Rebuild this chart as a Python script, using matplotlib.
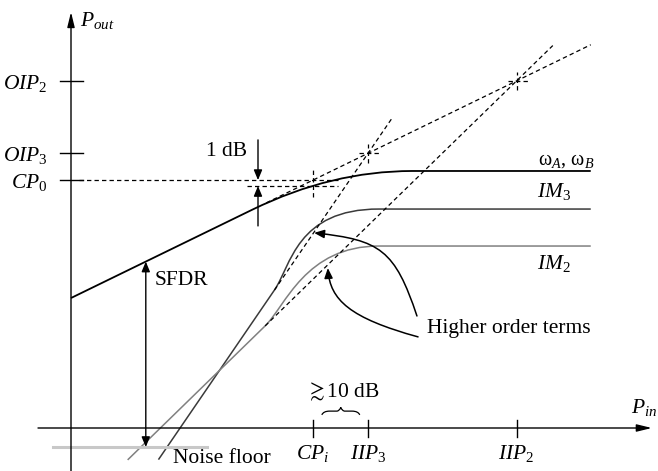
import matplotlib.pyplot as plt
from matplotlib.path import Path
from matplotlib.patches import PathPatch, FancyArrowPatch

plt.rcParams['font.family'] = ['Liberation Serif', 'DejaVu Serif']
plt.rcParams['mathtext.fontset'] = 'custom'
plt.rcParams['mathtext.rm'] = 'Liberation Serif'
plt.rcParams['mathtext.it'] = 'Liberation Serif:italic'

# input / output levels (arbitrary dB units, origin at the axes crossing)
pin_ticks = [44.0, 54.0, 81.0]
pin_labels = [r'$CP_i$', r'$IIP_3$', r'$IIP_2$']
pout_ticks = [129.5, 102.5, 92.5]
pout_labels = [r'$OIP_2$', r'$OIP_3$', r'$CP_0$']
cp_compressed = 90.3

# fundamental (omega_A, omega_B): linear, knee, saturation
fund_pin = [0.0, 33.0, 47.4, 62.0, 94.5]
fund_pout = [48.5, 81.5, 95.9, 95.9, 95.9]
fund_codes = [Path.MOVETO, Path.LINETO, Path.CURVE3, Path.CURVE3, Path.LINETO]

# third order intermod
im3_pin = [15.9, 37.0, 40.0, 41.0, 56.0, 94.5]
im3_pout = [-11.8, 51.5, 60.5, 81.7, 81.7, 81.7]
# second order intermod
im2_pin = [10.3, 35.3, 39.0, 42.6, 56.0, 94.5]
im2_pout = [-11.9, 38.1, 45.5, 67.9, 67.9, 67.9]
im_codes = [Path.MOVETO, Path.LINETO, Path.CURVE4, Path.CURVE4, Path.CURVE4, Path.LINETO]

# dashed extrapolations
fund_ext_pin, fund_ext_pout = [35.5, 94.5], [84.0, 143.0]
im3_ext_pin, im3_ext_pout = [37.0, 58.5], [51.5, 116.0]
im2_ext_pin, im2_ext_pout = [35.3, 87.6], [38.1, 142.7]

noise_pin, noise_pout = [-3.3, 24.7], [-7.1, -7.1]
sfdr_pin, sfdr_top, sfdr_bot = 13.6, 62.1, -7.1

# "higher order terms" pointers
hot1_pin = [62.9, 58.9, 56.2, 44.2]
hot1_pout = [41.8, 66.4, 70.2, 72.8]
hot2_pin = [63.1, 50.7, 47.1, 46.7]
hot2_pout = [34.0, 41.0, 47.8, 59.7]

fig = plt.figure(figsize=(6.58, 4.71), dpi=100)
ax = fig.add_axes([0, 0, 1, 1])
ax.set_xlim(-71 / 5.5, 587 / 5.5)
ax.set_ylim(-43 / 2.68, 428 / 2.68)
ax.axis('off')

fs = 15.5
dash = (0, (3.5, 2.5))
k = dict(color='black', lw=0.9, ls=dash)

# axes with arrows
ax.annotate('', xy=(0, 155.2), xytext=(0, -16.0),
            arrowprops=dict(arrowstyle='-|>,head_length=0.9,head_width=0.22',
                            lw=1.0, color='black', shrinkA=0, shrinkB=0))
ax.annotate('', xy=(105.6, 0), xytext=(-6.0, 0),
            arrowprops=dict(arrowstyle='-|>,head_length=0.9,head_width=0.22',
                            lw=1.0, color='black', shrinkA=0, shrinkB=0))
ax.text(1.6, 152.2, r'$P_{out}$', fontsize=fs, ha='left', va='center')
ax.text(101.8, 7.5, r'$P_{in}$', fontsize=fs, ha='left', va='center')

for v, lab in zip(pin_ticks, pin_labels):
    ax.plot([v, v], [-3.4, 3.0], color='black', lw=1.0)
    ax.text(v, -9.5, lab, fontsize=fs, ha='center', va='center')
for v, lab in zip(pout_ticks, pout_labels):
    ax.plot([-2.0, 2.2], [v, v], color='black', lw=1.0)
    ax.text(-4.2, v - 1.0, lab, fontsize=fs, ha='right', va='center')

# curves
ax.add_patch(PathPatch(Path(list(zip(fund_pin, fund_pout)), fund_codes),
                       fc='none', ec='black', lw=1.3))
ax.add_patch(PathPatch(Path(list(zip(im3_pin, im3_pout)), im_codes),
                       fc='none', ec='#3a3a3a', lw=1.1))
ax.add_patch(PathPatch(Path(list(zip(im2_pin, im2_pout)), im_codes),
                       fc='none', ec='#808080', lw=1.1))

ax.plot(fund_ext_pin, fund_ext_pout, **k)
ax.plot(im3_ext_pin, im3_ext_pout, **k)
ax.plot(im2_ext_pin, im2_ext_pout, **k)

# compression markers
ax.plot([1.5, 48.5], [pout_ticks[2]] * 2, **k)
ax.plot([32.0, 48.5], [cp_compressed] * 2, **k)
ax.plot([pin_ticks[0]] * 2, [86.2, 96.3], **k)
# intercept crosshairs
for px_, py_ in [(pin_ticks[1], pout_ticks[1]), (pin_ticks[2], pout_ticks[0])]:
    ax.plot([px_ - 1.6, px_ + 2.4], [py_, py_], **k)
    ax.plot([px_, px_], [py_ - 3.5, py_ + 3.3], **k)

ap = dict(arrowstyle='-|>,head_length=0.6,head_width=0.25', lw=1.0,
          color='black', shrinkA=0, shrinkB=0)
ax.annotate('', xy=(34.0, pout_ticks[2]), xytext=(34.0, 107.5), arrowprops=ap)
ax.annotate('', xy=(34.0, cp_compressed), xytext=(34.0, 75.4), arrowprops=ap)
ax.text(28.3, 103.0, '1 dB', fontsize=fs, ha='center', va='center')

# noise floor and SFDR
ax.plot(noise_pin, noise_pout, color='#c8c8c8', lw=2.2, zorder=1)
ax.annotate('', xy=(sfdr_pin, sfdr_bot), xytext=(sfdr_pin, sfdr_top),
            arrowprops=dict(arrowstyle='<|-|>,head_length=0.6,head_width=0.25',
                            lw=1.0, color='black', shrinkA=0, shrinkB=0))
ax.text(15.2, 55.2, 'SFDR', fontsize=fs, ha='left', va='center')
ax.text(18.6, -11.4, 'Noise floor', fontsize=fs, ha='left', va='center')

# higher order term pointers
c4 = [Path.MOVETO, Path.CURVE4, Path.CURVE4, Path.CURVE4]
for xs, ys in [(hot1_pin, hot1_pout), (hot2_pin, hot2_pout)]:
    ax.add_patch(FancyArrowPatch(path=Path(list(zip(xs, ys)), c4),
                                 arrowstyle='-|>,head_length=0.6,head_width=0.25',
                                 mutation_scale=10, lw=1.1, color='black'))
ax.text(64.7, 37.3, 'Higher order terms', fontsize=fs, ha='left', va='center')

ax.text(84.9, 99.8, r'ω$_A$, ω$_B$', fontsize=14.5, ha='left', va='center')
ax.text(84.7, 88.1, r'$IM_3$', fontsize=fs, ha='left', va='center')
ax.text(84.7, 61.2, r'$IM_2$', fontsize=fs, ha='left', va='center')

# >~10 dB between CP_i and IIP_3
ax.text(49.4, 13.4, r'$\gtrsim$10 dB', fontsize=fs, ha='center', va='center')
bx = [45.6, 45.9, 47.0, 48.4, 48.9, 49.05, 49.2, 49.7, 51.1, 52.2, 52.5]
by = [4.9, 6.3, 6.3, 6.3, 6.6, 7.7, 6.6, 6.3, 6.3, 6.3, 4.9]
bc = [Path.MOVETO, Path.CURVE3, Path.CURVE3, Path.LINETO, Path.CURVE3, Path.CURVE3,
      Path.CURVE3, Path.CURVE3, Path.LINETO, Path.CURVE3, Path.CURVE3]
ax.add_patch(PathPatch(Path(list(zip(bx, by)), bc), fc='none', ec='black', lw=0.9))

fig.savefig('out.png', dpi=100)
